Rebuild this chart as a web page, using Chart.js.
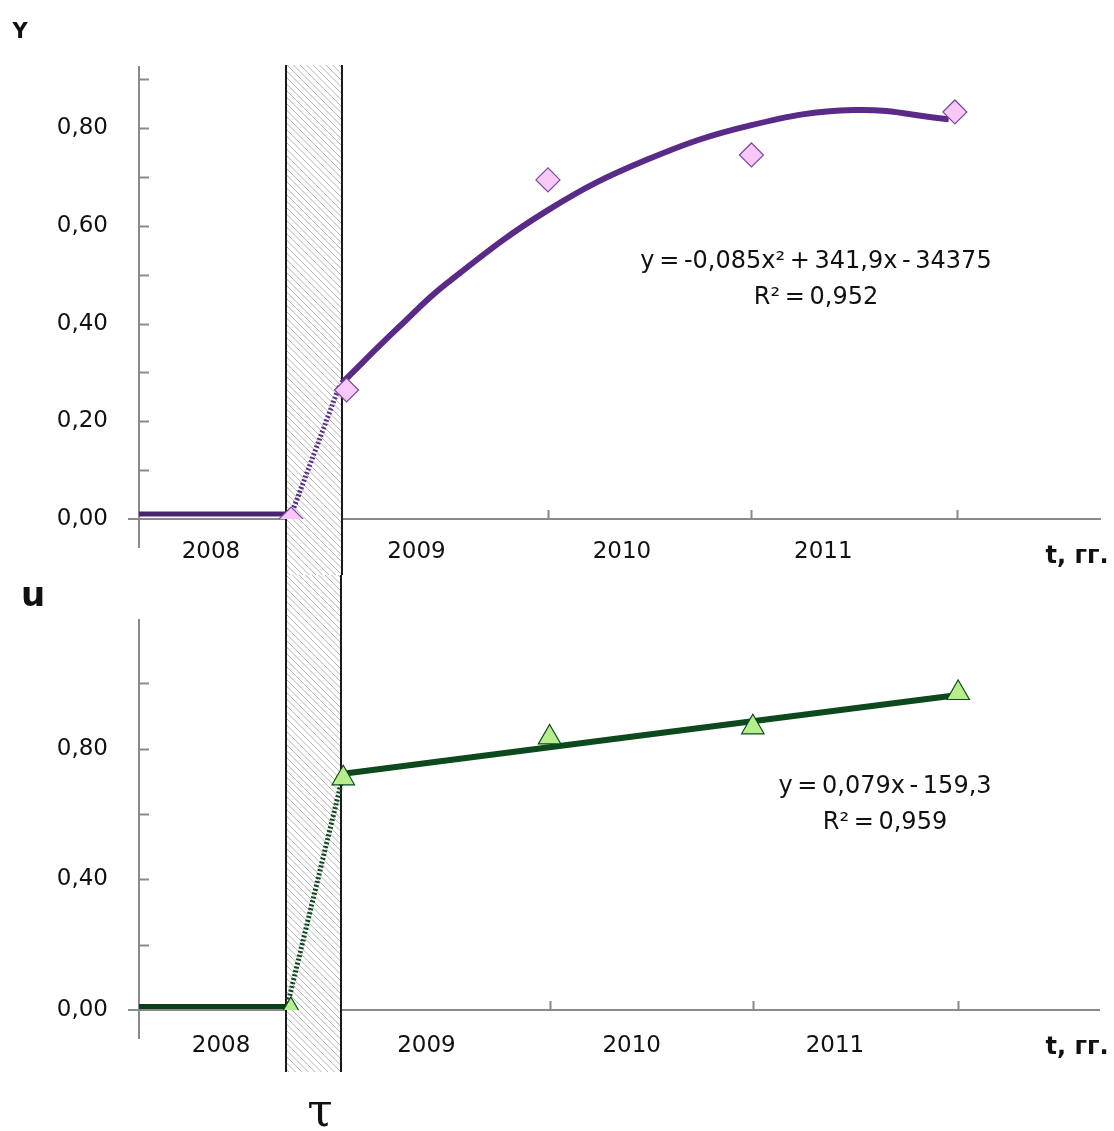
<!DOCTYPE html>
<html>
<head>
<meta charset="utf-8">
<script src="https://cdn.jsdelivr.net/npm/chart.js@4.4.1/dist/chart.umd.min.js"></script>
<style>
    body { margin: 0; background: #fff; }
    #page { position: relative; width: 1114px; height: 1131px; overflow: hidden; font-family: 'DejaVu Sans', sans-serif; color: #111; }
    .box { position: absolute; left: 0; width: 1114px; }
    .lbl { position: absolute; transform: translate(-50%, -50%); white-space: nowrap; }
    .eq { font-size: 24px; line-height: 36px; text-align: center; word-spacing: -3px; }
    .axisName { font-weight: bold; }
</style>
</head>
<body>
<div id="page">
    <div class="box" style="top:0;height:575px"><canvas id="topChart" width="1114" height="575"></canvas></div>
    <div class="box" style="top:575px;height:556px"><canvas id="bottomChart" width="1114" height="556"></canvas></div>

    <div class="lbl axisName" style="left:20px;top:31px;font-size:21px">Y</div>
    <div class="lbl axisName" style="left:33px;top:594px;font-size:34px">u</div>
    <div class="lbl axisName" style="left:1077px;top:555px;font-size:24px">t, гг.</div>
    <div class="lbl axisName" style="left:1077px;top:1046px;font-size:24px">t, гг.</div>
    <div class="lbl" style="left:320px;top:1110px;font-size:46px;font-family:'DejaVu Serif',serif">τ</div>

    <div class="lbl eq" style="left:816px;top:278px">y = -0,085x² + 341,9x - 34375<br>R² = 0,952</div>
    <div class="lbl eq" style="left:885px;top:803px">y = 0,079x - 159,3<br>R² = 0,959</div>
</div>

<script>
// years on x, shared by both panels
const X_MIN = 2008;
const X_MAX = 2012.68;
const bandFrom = 2008.715;
const bandTo = 2008.986;
const yearLabels = ['2008', '2009', '2010', '2011'];

// ---- Y panel ----
const yPointsX = [2008.74, 2009.01, 2009.99, 2010.98, 2011.97];
const yPointsY = [0.00, 0.264, 0.694, 0.745, 0.833];
const yFlatX = [2008.0, 2008.73];
const yFlatY = [0.01, 0.01];
const yJumpX = [2008.74, 2008.975];
const yJumpY = [0.008, 0.272];
const yTrendX = [2008.986, 2009.26, 2009.50, 2009.99, 2010.47, 2010.98, 2011.48, 2011.94];
const yTrendY = [0.278, 0.391, 0.483, 0.632, 0.735, 0.806, 0.837, 0.818];
const yLabelPos = [2008.35, 2009.35, 2010.35, 2011.33];
const yTickMarks = [2009.99, 2010.98, 2011.98];

// ---- u panel ----
const uPointsX = [2008.74, 2008.995, 2010.0, 2010.99, 2011.99];
const uPointsY = [0.00, 0.709, 0.834, 0.865, 0.970];
const uFlatX = [2008.0, 2008.72];
const uFlatY = [0.011, 0.011];
const uJumpX = [2008.725, 2008.985];
const uJumpY = [0.02, 0.695];
const uTrendX = [2008.995, 2011.99];
const uTrendY = [0.723, 0.964];
const uLabelPos = [2008.40, 2009.40, 2010.40, 2011.39];
const uTickMarks = [2010.0, 2010.99, 2011.99];

const AXIS_COLOR = '#8a8a8a';
const TICK_FONT = { family: 'DejaVu Sans', size: 23 };

function pts(xs, ys) {
    return xs.map((x, i) => ({ x: x, y: ys[i] }));
}

function fmt(v) {
    return v.toFixed(2).replace('.', ',');
}

function isStep(v, step) {
    const k = v / step;
    return Math.abs(k - Math.round(k)) < 1e-6;
}

// hatched band + small axis details drawn through the chart scales
const decorPlugin = {
    id: 'decor',
    beforeDatasetsDraw(chart, args, opts) {
        const { ctx } = chart;
        const xs = chart.scales.x;
        const left = Math.round(xs.getPixelForValue(bandFrom));
        const right = Math.round(xs.getPixelForValue(bandTo));
        const top = opts.bandTop;
        const bottom = opts.bandBottom;

        ctx.save();
        ctx.fillStyle = '#fff';
        ctx.fillRect(left, top, right - left, bottom - top);
        ctx.beginPath();
        ctx.rect(left, top, right - left, bottom - top);
        ctx.clip();
        ctx.strokeStyle = '#b4b4b4';
        ctx.lineWidth = 1;
        ctx.beginPath();
        for (let s = top - (right - left) - 10; s < bottom + 10; s += 6.5) {
            ctx.moveTo(left, s);
            ctx.lineTo(right + 10, s + (right - left) + 10);
        }
        ctx.stroke();
        ctx.restore();

        ctx.save();
        ctx.strokeStyle = '#1a1a1a';
        ctx.lineWidth = 2;
        ctx.beginPath();
        ctx.moveTo(left, top);
        ctx.lineTo(left, bottom);
        ctx.moveTo(right, top);
        ctx.lineTo(right, bottom);
        ctx.stroke();
        ctx.restore();
    },
    afterDraw(chart, args, opts) {
        const { ctx, chartArea } = chart;
        const xs = chart.scales.x;
        const ys = chart.scales.y;
        const zero = ys.getPixelForValue(0);

        ctx.save();
        ctx.strokeStyle = AXIS_COLOR;
        ctx.lineWidth = 2;
        ctx.beginPath();
        // y axis running below the x axis, x axis running left of y axis
        ctx.moveTo(chartArea.left, zero);
        ctx.lineTo(chartArea.left, zero + 29);
        ctx.moveTo(chartArea.left - 11, zero);
        ctx.lineTo(chartArea.left, zero);
        // minor ticks on y, pointing inward
        ys.ticks.forEach(t => {
            if (t.value === 0 || !isStep(t.value, opts.yStep)) return;
            const p = Math.round(ys.getPixelForValue(t.value)) + 0.5;
            ctx.moveTo(chartArea.left, p);
            ctx.lineTo(chartArea.left + 10, p);
        });
        // x tick marks above the axis
        opts.tickMarks.forEach(v => {
            const p = Math.round(xs.getPixelForValue(v)) + 0.5;
            ctx.moveTo(p, zero);
            ctx.lineTo(p, zero - 9);
        });
        ctx.stroke();
        ctx.restore();
    }
};

function buildChart(canvasId, cfg) {
    return new Chart(document.getElementById(canvasId), {
        type: 'scatter',
        data: {
            datasets: [
                {
                    data: pts(cfg.pointsX, cfg.pointsY),
                    pointStyle: cfg.pointStyle,
                    pointRadius: cfg.pointRadius,
                    pointBackgroundColor: cfg.markerFill,
                    pointBorderColor: cfg.markerBorder,
                    pointBorderWidth: 1.2,
                    showLine: false
                },
                {
                    data: pts(cfg.trendX, cfg.trendY),
                    showLine: true,
                    borderColor: cfg.lineColor,
                    borderWidth: 6,
                    pointRadius: 0,
                    tension: 0.4
                },
                {
                    data: pts(cfg.jumpX, cfg.jumpY),
                    showLine: true,
                    borderColor: cfg.lineColor,
                    borderWidth: 5,
                    borderDash: [2, 2],
                    pointRadius: 0
                },
                {
                    data: pts(cfg.flatX, cfg.flatY),
                    showLine: true,
                    borderColor: cfg.flatColor,
                    borderWidth: 5,
                    pointRadius: 0
                }
            ]
        },
        options: {
            responsive: false,
            animation: false,
            devicePixelRatio: 1,
            layout: {
                padding: { top: cfg.padTop, right: 6, left: 0, bottom: 0 }
            },
            scales: {
                x: {
                    type: 'linear',
                    min: X_MIN,
                    max: X_MAX,
                    afterFit: scale => { scale.height = cfg.xHeight; },
                    afterBuildTicks: scale => {
                        scale.ticks = cfg.labelPos.map(v => ({ value: v }));
                    },
                    grid: { display: false, drawTicks: false },
                    border: { display: true, color: AXIS_COLOR, width: 2 },
                    ticks: {
                        autoSkip: false,
                        maxRotation: 0,
                        padding: cfg.xPad,
                        color: '#111',
                        font: TICK_FONT,
                        callback: (value, index) => yearLabels[index]
                    }
                },
                y: {
                    min: 0,
                    max: cfg.yMax,
                    afterFit: scale => { scale.width = 139; },
                    grid: { display: false, drawTicks: false },
                    border: { display: true, color: AXIS_COLOR, width: 2 },
                    ticks: {
                        stepSize: cfg.yStep,
                        includeBounds: false,
                        padding: 31,
                        color: '#111',
                        font: TICK_FONT,
                        callback: value => isStep(value, cfg.yStep * 2) ? fmt(value) : ''
                    }
                }
            },
            plugins: {
                legend: { display: false },
                tooltip: { enabled: false },
                decor: {
                    bandTop: cfg.bandTop,
                    bandBottom: cfg.bandBottom,
                    tickMarks: cfg.tickMarks,
                    yStep: cfg.yStep
                }
            }
        },
        plugins: [decorPlugin]
    });
}

buildChart('topChart', {
    pointsX: yPointsX, pointsY: yPointsY,
    trendX: yTrendX, trendY: yTrendY,
    jumpX: yJumpX, jumpY: yJumpY,
    flatX: yFlatX, flatY: yFlatY,
    labelPos: yLabelPos, tickMarks: yTickMarks,
    pointStyle: 'rectRot', pointRadius: 12,
    markerFill: '#f8c8f8', markerBorder: '#7a4a9e',
    lineColor: '#5a2a88', flatColor: '#4a2470',
    yMax: 0.925, yStep: 0.1,
    padTop: 67, xHeight: 56, xPad: 19,
    bandTop: 65, bandBottom: 575
});

buildChart('bottomChart', {
    pointsX: uPointsX, pointsY: uPointsY,
    trendX: uTrendX, trendY: uTrendY,
    jumpX: uJumpX, jumpY: uJumpY,
    flatX: uFlatX, flatY: uFlatY,
    labelPos: uLabelPos, tickMarks: uTickMarks,
    pointStyle: 'triangle', pointRadius: 13,
    markerFill: '#b6ee8c', markerBorder: '#0c4a1e',
    lineColor: '#0c4a1e', flatColor: '#0a3f18',
    yMax: 1.194, yStep: 0.2,
    padTop: 14, xHeight: 121, xPad: 22,
    bandTop: 0, bandBottom: 497
});
</script>
</body>
</html>
